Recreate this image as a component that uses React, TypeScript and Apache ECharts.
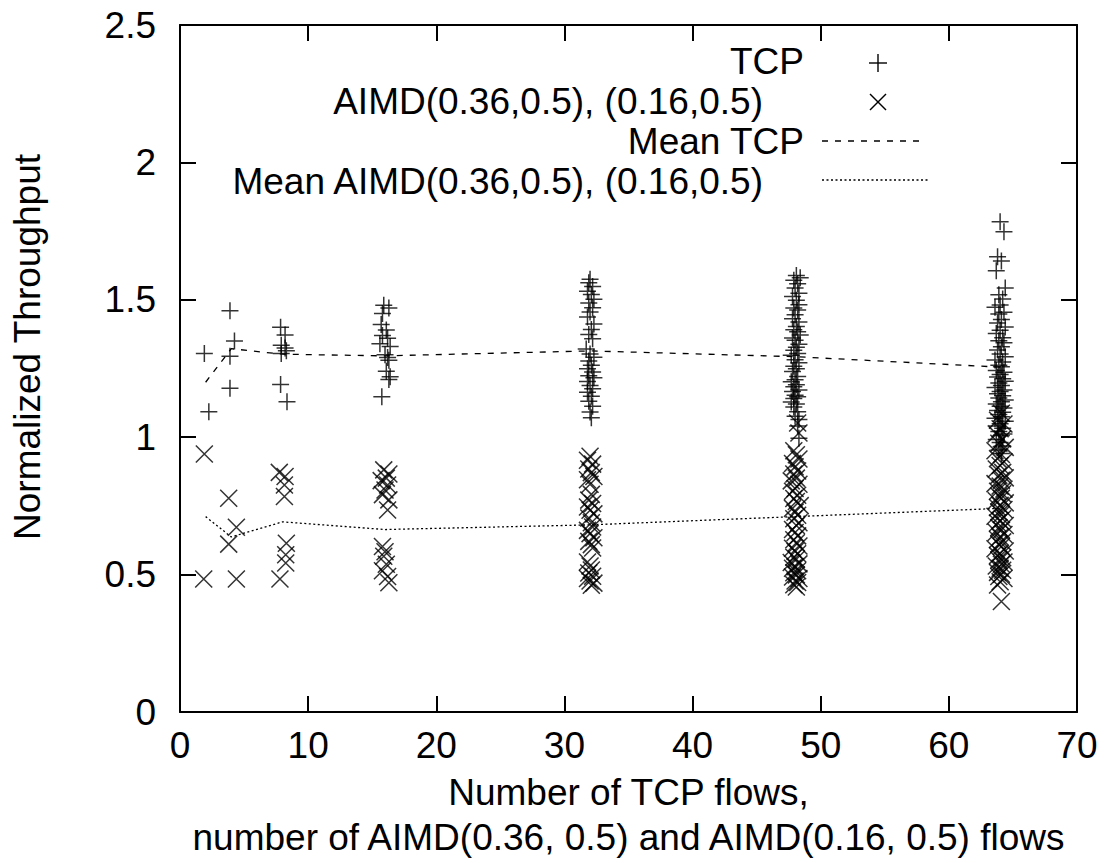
import React, { useEffect, useRef } from "react";
import * as echarts from "echarts";

const FONT = '"Liberation Sans", Arial, Helvetica, sans-serif';

// x tick / y tick ranges
const xTicks = { min: 0, max: 70, interval: 10 };
const yTicks = { min: 0, max: 2.5, interval: 0.5 };

// TCP throughput points [flows (jittered), normalized throughput]
const tcp2: [number, number][] = [[1.9, 1.305], [2.25, 1.093]];
const tcp4: [number, number][] = [[3.9, 1.46], [4.25, 1.35], [3.9, 1.295], [3.9, 1.178]];
const tcp8: [number, number][] = [
  [7.85, 1.4], [8.2, 1.372], [7.9, 1.335], [8.2, 1.325], [8.3, 1.315], [7.9, 1.305], [7.85, 1.192], [8.35, 1.129],
];
const tcp16: [number, number][] = [
  [15.9, 1.48], [16.3, 1.47], [15.8, 1.45], [15.7, 1.41], [16.1, 1.39], [15.8, 1.37], [16.2, 1.36], [15.6, 1.34],
  [16.4, 1.33], [16.0, 1.3], [16.2, 1.29], [16.3, 1.28], [16.1, 1.24], [16.4, 1.22], [16.3, 1.21], [15.75, 1.147],
];
const tcp32: [number, number][] = [
  [32.0, 1.575], [31.9, 1.562], [32.2, 1.548], [31.8, 1.531], [32.1, 1.519], [32.3, 1.502], [31.9, 1.488], [32.2, 1.471],
  [32.0, 1.456], [31.8, 1.437], [32.3, 1.412], [32.1, 1.392], [31.9, 1.374], [32.2, 1.358], [31.7, 1.321], [32.0, 1.303],
  [32.3, 1.291], [31.9, 1.277], [32.1, 1.262], [31.8, 1.249], [32.2, 1.237], [31.9, 1.224], [32.3, 1.216], [31.8, 1.203],
  [32.0, 1.188], [32.2, 1.176], [31.8, 1.164], [32.1, 1.149], [31.9, 1.131], [32.2, 1.113], [32.0, 1.092], [32.1, 1.071],
];
const tcp48: [number, number][] = [
  [48.1, 1.588], [48.4, 1.58], [47.9, 1.571], [48.2, 1.558], [48.0, 1.543], [48.3, 1.524], [47.8, 1.512], [48.1, 1.498],
  [48.3, 1.482], [47.9, 1.47], [48.2, 1.463], [48.0, 1.446], [47.8, 1.431], [48.3, 1.419], [48.1, 1.403], [47.9, 1.391],
  [48.2, 1.384], [48.4, 1.372], [47.8, 1.361], [48.0, 1.353], [48.3, 1.338], [48.1, 1.327], [47.9, 1.316], [48.2, 1.305],
  [47.7, 1.298], [48.0, 1.282], [48.3, 1.271], [47.9, 1.258], [48.1, 1.249], [47.8, 1.239], [48.2, 1.221], [48.0, 1.209],
  [47.7, 1.202], [48.1, 1.191], [47.9, 1.184], [48.3, 1.172], [47.8, 1.166], [48.0, 1.153], [48.2, 1.147], [47.9, 1.141],
  [47.7, 1.128], [48.1, 1.121], [47.9, 1.11], [48.2, 1.093], [48.0, 1.076], [48.3, 1.064], [48.2, 1.041], [48.3, 0.996],
];
const tcp64: [number, number][] = [
  [64.0, 1.784], [64.3, 1.748], [63.8, 1.657], [64.1, 1.641], [63.7, 1.606], [64.4, 1.543], [63.9, 1.518], [64.2, 1.503],
  [64.0, 1.481], [63.6, 1.473], [64.3, 1.455], [63.9, 1.448], [64.1, 1.428], [63.8, 1.416], [64.4, 1.401], [64.0, 1.389],
  [63.7, 1.377], [64.2, 1.362], [63.9, 1.351], [64.3, 1.344], [64.1, 1.329], [63.8, 1.317], [64.0, 1.303], [64.4, 1.293],
  [63.6, 1.281], [64.2, 1.274], [63.9, 1.262], [64.1, 1.256], [63.7, 1.243], [64.3, 1.236], [64.0, 1.228], [63.8, 1.219],
  [64.2, 1.213], [64.4, 1.204], [63.9, 1.197], [64.1, 1.188], [63.6, 1.181], [64.3, 1.172], [64.0, 1.166], [63.8, 1.158],
  [64.2, 1.151], [63.9, 1.143], [64.4, 1.135], [64.1, 1.129], [63.7, 1.121], [64.0, 1.113], [64.3, 1.106], [63.8, 1.097],
  [64.2, 1.091], [63.9, 1.083], [64.1, 1.074], [63.6, 1.069], [64.4, 1.058], [64.0, 1.049], [63.8, 1.041], [64.2, 1.033],
  [63.9, 1.021], [64.3, 1.012], [64.1, 1.006], [63.7, 0.992], [64.0, 0.981], [64.2, 0.968], [63.9, 0.953], [64.1, 0.941],
];

// AIMD throughput points
const aimd2: [number, number][] = [[1.9, 0.939], [1.85, 0.484]];
const aimd4: [number, number][] = [[3.8, 0.778], [4.4, 0.672], [3.8, 0.611], [4.4, 0.484]];
const aimd8: [number, number][] = [
  [7.75, 0.872], [8.2, 0.857], [8.15, 0.826], [8.15, 0.784], [8.3, 0.614], [8.25, 0.572], [8.25, 0.542], [7.8, 0.484],
];
const aimd16: [number, number][] = [
  [15.9, 0.881], [16.3, 0.866], [16.1, 0.851], [15.7, 0.842], [16.2, 0.826], [16.0, 0.808], [15.8, 0.791], [16.3, 0.772],
  [16.2, 0.735], [15.8, 0.602], [16.0, 0.583], [15.9, 0.567], [16.1, 0.538], [15.8, 0.514], [16.2, 0.493], [16.3, 0.47],
];
const aimd32: [number, number][] = [
  [32.0, 0.931], [31.8, 0.916], [32.2, 0.902], [31.9, 0.884], [32.1, 0.871], [32.3, 0.857], [31.8, 0.845], [32.0, 0.829],
  [32.1, 0.792], [31.9, 0.771], [32.2, 0.759], [31.8, 0.746], [32.0, 0.734], [32.3, 0.721], [31.9, 0.706], [32.1, 0.689],
  [32.2, 0.673], [31.8, 0.661], [32.0, 0.649], [32.3, 0.634], [31.9, 0.621], [32.1, 0.609], [32.2, 0.597], [31.8, 0.546],
  [32.0, 0.531], [32.1, 0.517], [31.9, 0.506], [32.2, 0.494], [31.8, 0.486], [32.0, 0.477], [32.3, 0.469], [32.1, 0.461],
];
const aimd48: [number, number][] = [
  [48.2, 1.052], [48.3, 1.015], [47.9, 0.951], [48.1, 0.936], [48.3, 0.921], [47.8, 0.904], [48.0, 0.892], [48.2, 0.877],
  [47.9, 0.866], [48.1, 0.851], [47.7, 0.841], [48.3, 0.829], [48.0, 0.813], [47.8, 0.803], [48.2, 0.789], [47.9, 0.777],
  [48.1, 0.766], [48.4, 0.751], [47.8, 0.741], [48.0, 0.727], [48.2, 0.716], [47.9, 0.703], [48.3, 0.689], [48.1, 0.679],
  [47.8, 0.664], [48.0, 0.653], [48.2, 0.641], [47.9, 0.627], [48.1, 0.616], [48.3, 0.604], [47.8, 0.596], [48.0, 0.584],
  [48.2, 0.576], [47.9, 0.563], [48.1, 0.556], [47.7, 0.544], [48.3, 0.539], [48.0, 0.529], [47.8, 0.523], [48.2, 0.514],
  [47.9, 0.507], [48.1, 0.499], [47.8, 0.491], [48.3, 0.486], [48.0, 0.477], [48.2, 0.471], [47.9, 0.463], [48.1, 0.455],
];
const aimd64: [number, number][] = [
  [64.1, 1.087], [63.8, 1.062], [64.3, 1.048], [64.0, 1.031], [63.7, 1.012], [64.2, 0.994], [63.9, 0.978], [64.4, 0.963],
  [63.6, 0.951], [64.1, 0.937], [63.8, 0.922], [64.3, 0.911], [64.0, 0.897], [63.7, 0.884], [64.2, 0.872], [63.9, 0.861],
  [64.4, 0.852], [64.1, 0.843], [63.6, 0.831], [64.0, 0.822], [64.3, 0.811], [63.8, 0.803], [64.2, 0.794], [63.9, 0.786],
  [64.1, 0.778], [63.7, 0.769], [64.4, 0.761], [64.0, 0.752], [63.8, 0.744], [64.3, 0.737], [63.9, 0.728], [64.1, 0.719],
  [63.6, 0.712], [64.2, 0.703], [64.0, 0.696], [63.8, 0.688], [64.4, 0.679], [63.9, 0.671], [64.1, 0.662], [63.7, 0.654],
  [64.3, 0.646], [64.0, 0.637], [63.8, 0.628], [64.2, 0.619], [63.9, 0.611], [64.1, 0.602], [63.6, 0.594], [64.4, 0.586],
  [64.0, 0.577], [63.8, 0.569], [64.2, 0.561], [63.9, 0.553], [64.3, 0.546], [64.1, 0.538], [63.7, 0.531], [64.0, 0.523],
  [64.2, 0.516], [63.8, 0.508], [64.1, 0.501], [63.9, 0.493], [64.3, 0.486], [64.0, 0.474], [63.8, 0.462], [64.1, 0.402],
];

// Means per flow count
const meanX = [2, 4, 8, 16, 32, 48, 64];
const meanTcp = [1.2, 1.322, 1.302, 1.296, 1.314, 1.293, 1.255];
const meanAimd = [0.711, 0.637, 0.692, 0.664, 0.681, 0.711, 0.741];

const legendLabels = ["TCP", "AIMD(0.36,0.5), (0.16,0.5)", "Mean TCP", "Mean AIMD(0.36,0.5), (0.16,0.5)"];
const xTitle = "Number of TCP flows,\nnumber of AIMD(0.36, 0.5) and AIMD(0.16, 0.5) flows";
const yTitle = "Normalized Throughput";

const PLUS = "path://M8,0 L8,16 M0,8 L16,8";
const CROSS = "path://M0,0 L16,16 M16,0 L0,16";
const FS = 37;

export default function App() {
  const ref = useRef<HTMLDivElement>(null);
  useEffect(() => {
    if (!ref.current) return;
    const chart = echarts.init(ref.current, null, { renderer: "svg" });
    const axisLine = { show: true, onZero: false, lineStyle: { color: "#000", width: 2 } };
    const axisTick = { show: true, inside: true, length: 16, lineStyle: { color: "#000", width: 2 } };
    const labelStyle = { color: "#000", fontSize: FS, fontFamily: FONT };
    const textStyle = (text: string, x: number, y: number, align: string) => ({
      type: "text",
      x,
      y,
      style: { text, fill: "#000", fontSize: FS, fontFamily: FONT, align, verticalAlign: "middle" },
    });
    const line = (x1: number, y1: number, x2: number, y2: number, dash?: number[]) => ({
      type: "line",
      shape: { x1, y1, x2, y2 },
      style: { stroke: "#000", lineWidth: 1.4, lineDash: dash },
    });
    chart.setOption({
      animation: false,
      backgroundColor: "#fff",
      grid: { left: 180, top: 25, right: 37, bottom: 151, containLabel: false, outerBoundsMode: "none" },
      xAxis: [
        {
          type: "value", ...xTicks, position: "bottom",
          axisLine, axisTick, splitLine: { show: false },
          axisLabel: { ...labelStyle, margin: 15 },
          name: xTitle, nameLocation: "middle", nameGap: 58,
          nameTextStyle: { ...labelStyle, lineHeight: 45 },
        },
        {
          type: "value", ...xTicks, position: "top",
          axisLine, axisTick, splitLine: { show: false }, axisLabel: { show: false },
        },
      ],
      yAxis: [
        {
          type: "value", ...yTicks, position: "left",
          axisLine, axisTick, splitLine: { show: false },
          axisLabel: { ...labelStyle, margin: 24 },
        },
        {
          type: "value", ...yTicks, position: "right",
          axisLine, axisTick, splitLine: { show: false }, axisLabel: { show: false },
        },
      ],
      series: [
        {
          name: legendLabels[0], type: "scatter", symbol: PLUS, symbolSize: 17,
          itemStyle: { color: "rgba(0,0,0,0)", borderColor: "#000", borderWidth: 1.5 },
          data: [...tcp2, ...tcp4, ...tcp8, ...tcp16, ...tcp32, ...tcp48, ...tcp64],
        },
        {
          name: legendLabels[1], type: "scatter", symbol: CROSS, symbolSize: 17,
          itemStyle: { color: "rgba(0,0,0,0)", borderColor: "#000", borderWidth: 1.5 },
          data: [...aimd2, ...aimd4, ...aimd8, ...aimd16, ...aimd32, ...aimd48, ...aimd64],
        },
        {
          name: legendLabels[2], type: "line", symbol: "none",
          lineStyle: { color: "#000", width: 1.3, type: [6, 7] },
          data: meanX.map((x, i) => [x, meanTcp[i]]),
        },
        {
          name: legendLabels[3], type: "line", symbol: "none",
          lineStyle: { color: "#000", width: 1.3, type: [2, 2.5] },
          data: meanX.map((x, i) => [x, meanAimd[i]]),
        },
      ],
      graphic: [
        {
          type: "text", x: 27, y: 347, rotation: Math.PI / 2,
          style: { text: yTitle, fill: "#000", fontSize: FS, fontFamily: FONT, align: "center", verticalAlign: "middle" },
        },
        textStyle(legendLabels[0], 804, 61, "right"),
        line(869, 63, 887, 63),
        line(878, 54, 878, 72),
        textStyle(legendLabels[1], 763, 101, "right"),
        line(870, 94, 886, 110),
        line(870, 110, 886, 94),
        textStyle(legendLabels[2], 804, 141, "right"),
        line(822, 141, 925, 141, [6, 7]),
        textStyle(legendLabels[3], 763, 181, "right"),
        line(822, 180, 928, 180, [2, 2.5]),
      ],
    });
    return () => chart.dispose();
  }, []);
  return (
    <div
      ref={ref}
      style={{ position: "fixed", left: 0, top: 0, width: 1114, height: 863, background: "#fff" }}
    />
  );
}
